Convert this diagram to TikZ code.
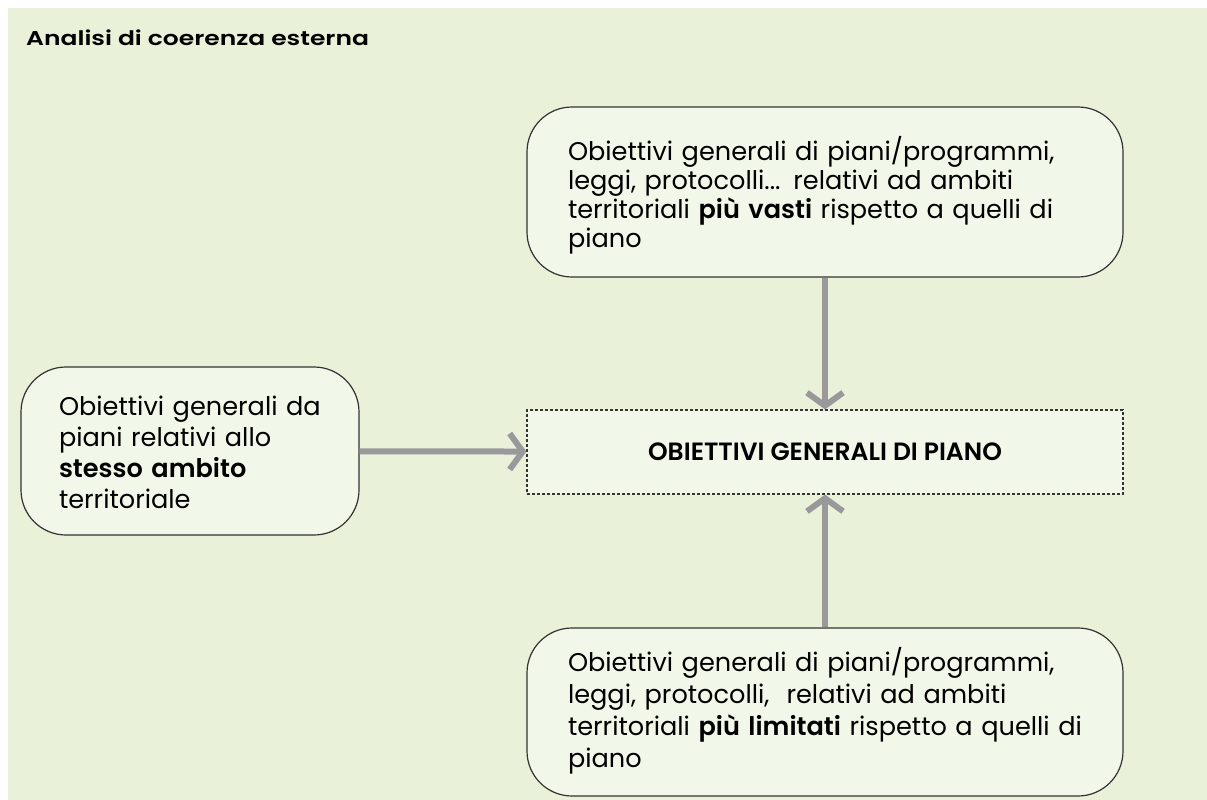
\documentclass[tikz,border=0pt]{standalone}
\usepackage{fontspec}
\setmainfont{Poppins}[BoldFont = * SemiBold]
\newfontfamily\widefont{Poppins}[FakeStretch = 1.25, BoldFont = * SemiBold]
\usepackage{tikz}
\usetikzlibrary{arrows.meta}

\definecolor{bggreen}{RGB}{234,241,217}
\definecolor{boxgreen}{RGB}{242,248,233}
\definecolor{flowgray}{RGB}{153,152,155}

\newcommand{\headgap}[1]{\rule{0pt}{#1}}
\newcommand{\tailgap}{\rule[-14pt]{0pt}{14pt}}

\tikzset{
	goalbox/.style = {draw = black!80, line width = 1.2pt, fill = boxgreen, rounded corners = 45pt, align = left, inner ysep = 0pt},
	mainbox/.style = {draw = black!80, line width = 1.2pt, dash pattern = on 3pt off 2pt, fill = boxgreen, minimum width = 596pt, minimum height = 84pt, font = \bfseries\fontsize{25}{30}\selectfont},
	flow/.style = {draw = flowgray, line width = 6pt, -{Straight Barb[length = 13pt, width = 36pt]}}
}

\begin{document}
\begin{tikzpicture}[x = 1pt, y = -1pt]
				\useasboundingbox (0, 0) rectangle (1207, 800);
				\fill[bggreen] (8, 8) rectangle (1207, 800);

				\node[anchor = base west, inner sep = 0pt, font = \widefont\bfseries\fontsize{20}{24}\selectfont](title) at (26, 46) {Analisi di coerenza esterna};

				\node[goalbox, minimum width = 596pt, minimum height = 170pt, text width = 520pt, inner xsep = 38pt, font = \fontsize{25.6}{29}\selectfont](wider) at (825, 192) {\hspace*{3pt}\headgap{37pt}Obiettivi generali di piani/programmi,\\\hspace*{3pt}leggi, protocolli... relativi ad ambiti\\\hspace*{3pt}territoriali \textbf{più vasti} rispetto a quelli di\\\hspace*{3pt}piano\tailgap};
				\node[goalbox, minimum width = 336pt, minimum height = 168pt, text width = 262pt, inner xsep = 38pt, font = \fontsize{25.6}{31}\selectfont](same) at (190, 451) {\headgap{35pt}Obiettivi generali da\\piani relativi allo\\\textbf{stesso ambito}\\territoriale\tailgap};
				\node[goalbox, minimum width = 596pt, minimum height = 168pt, text width = 520pt, inner xsep = 38pt, font = \fontsize{25.6}{32}\selectfont](narrower) at (825, 712) {\hspace*{3pt}\headgap{29pt}Obiettivi generali di piani/programmi,\\\hspace*{3pt}leggi, protocolli,\ \ relativi ad ambiti\\\hspace*{3pt}territoriali \textbf{più limitati} rispetto a quelli di\\\hspace*{3pt}piano\tailgap};
				\node[mainbox](plan) at (825, 452) {OBIETTIVI GENERALI DI PIANO};

				\draw[flow] (wider) -- (plan);
				\draw[flow] (same) -- (plan);
				\draw[flow] (narrower) -- (plan);
			\end{tikzpicture}
\end{document}
